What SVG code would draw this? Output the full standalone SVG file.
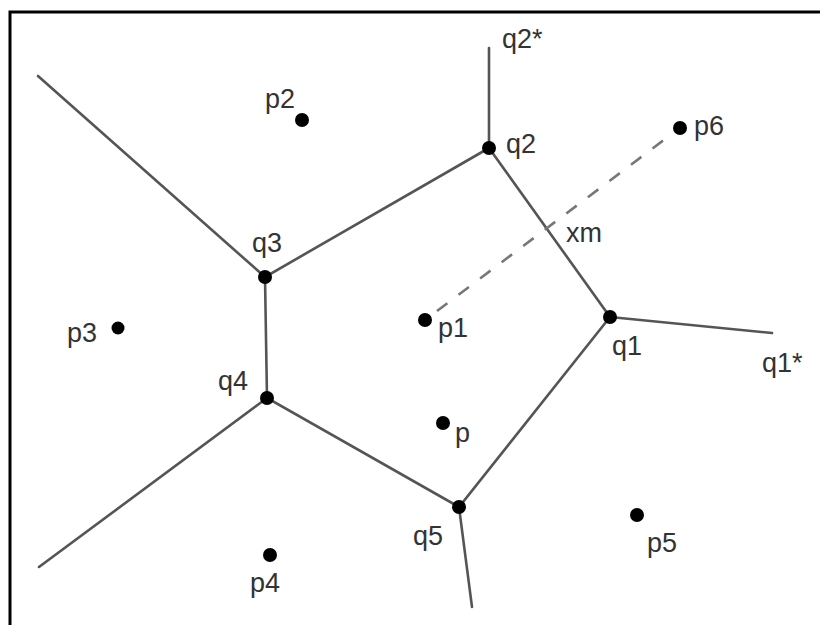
<svg xmlns="http://www.w3.org/2000/svg" width="820" height="625" viewBox="0 0 820 625">
<style>
.edge{stroke:#555;stroke-width:2.6;fill:none;stroke-linecap:round}
.dash{stroke:#777;stroke-width:2.6;fill:none;stroke-dasharray:13 14}
.dot{fill:#000}
.lbl{font-family:"Liberation Sans",Arial,sans-serif;font-size:27px;fill:#333}
.frame{stroke:#000;stroke-width:3;fill:none}
</style>
<rect width="820" height="625" fill="#fff"/>
<path class="frame" d="M10 625 V12 H820"/>
<g id="connectors">
<polyline class="edge" points="489,148 265,277 267,398 459,507 610,317 489,148"/>
<line class="edge" x1="489" y1="148" x2="489" y2="48"/>
<line class="edge" x1="265" y1="277" x2="38" y2="76"/>
<line class="edge" x1="267" y1="398" x2="39" y2="567"/>
<line class="edge" x1="459" y1="507" x2="472" y2="607"/>
<line class="edge" x1="610" y1="317" x2="772" y2="333"/>
<line class="dash" x1="437" y1="311" x2="673" y2="133"/>
</g>
<g id="q1"><circle class="dot" cx="610" cy="317" r="7"/><text class="lbl" x="612" y="355">q1</text></g>
<g id="q1star"><text class="lbl" x="762" y="372">q1*</text></g>
<g id="q2"><circle class="dot" cx="489" cy="148" r="7"/><text class="lbl" x="506" y="153">q2</text></g>
<g id="q2star"><text class="lbl" x="502" y="48">q2*</text></g>
<g id="q3"><circle class="dot" cx="265" cy="277" r="7"/><text class="lbl" x="252" y="252">q3</text></g>
<g id="q4"><circle class="dot" cx="267" cy="398" r="7"/><text class="lbl" x="218" y="390">q4</text></g>
<g id="q5"><circle class="dot" cx="459" cy="507" r="7"/><text class="lbl" x="413" y="545">q5</text></g>
<g id="xm"><text class="lbl" x="566" y="242">xm</text></g>
<g id="p"><circle class="dot" cx="443" cy="423" r="7"/><text class="lbl" x="455" y="442">p</text></g>
<g id="p1"><circle class="dot" cx="425" cy="320" r="7"/><text class="lbl" x="438" y="337">p1</text></g>
<g id="p2"><circle class="dot" cx="302" cy="120" r="7"/><text class="lbl" x="265" y="108">p2</text></g>
<g id="p3"><circle class="dot" cx="118" cy="328" r="6.5"/><text class="lbl" x="67" y="342">p3</text></g>
<g id="p4"><circle class="dot" cx="270" cy="555" r="7"/><text class="lbl" x="250" y="592">p4</text></g>
<g id="p5"><circle class="dot" cx="637" cy="515" r="7"/><text class="lbl" x="647" y="552">p5</text></g>
<g id="p6"><circle class="dot" cx="680" cy="128" r="7"/><text class="lbl" x="694" y="135">p6</text></g>
</svg>
